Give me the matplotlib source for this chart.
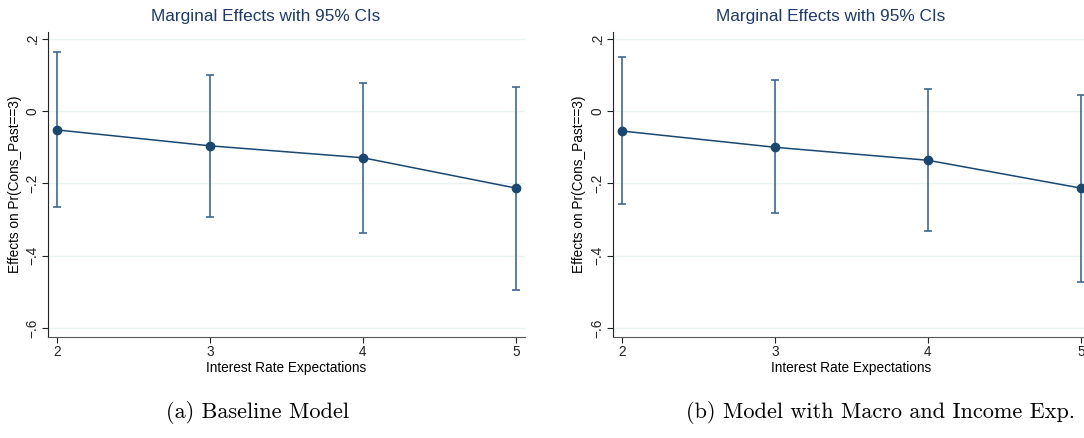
import matplotlib.pyplot as plt

# interest rate expectation categories
rate_exp = [2, 3, 4, 5]

# (a) baseline model
base_eff = [-0.052, -0.096, -0.129, -0.213]
base_lo = [-0.265, -0.294, -0.336, -0.495]
base_hi = [0.164, 0.101, 0.079, 0.066]

# (b) model with macro and income expectations
macro_eff = [-0.055, -0.100, -0.136, -0.213]
macro_lo = [-0.257, -0.283, -0.331, -0.473]
macro_hi = [0.150, 0.086, 0.060, 0.046]

yticks = [0.2, 0, -0.2, -0.4, -0.6]
ytick_labels = ['.2', '0', '\u2212.2', '\u2212.4', '\u2212.6']
captions = ['(a) Baseline Model', '(b) Model with Macro and Income Exp.']

plt.rcParams['font.family'] = ['Liberation Sans', 'DejaVu Sans']

navy = '#1a476f'
bar_col = '#3f6891'

fig = plt.figure(figsize=(10.84, 4.38), dpi=100)
W, H = 1084, 438


def panel(x0, eff, lo, hi, title, caption, cap_x):
    ax = fig.add_axes([x0 / W, (H - 337) / H, 477 / W, 305 / H])
    ax.set_xlim(1.941, 5.059)
    ax.set_ylim(-0.625, 0.219)
    for y in yticks:
        ax.axhline(y, color='#eaf2f3', lw=1, zorder=0)
    err = [[e - l for e, l in zip(eff, lo)], [h - e for e, h in zip(eff, hi)]]
    ax.errorbar(rate_exp, eff, yerr=err, fmt='none', ecolor=bar_col,
                elinewidth=1.2, capsize=3.2, capthick=1.2, zorder=2)
    ax.plot(rate_exp, eff, color=navy, lw=1.1, marker='o', ms=6,
            zorder=3, clip_on=False)
    ax.set_xticks(rate_exp)
    ax.set_xticklabels([str(v) for v in rate_exp], fontsize=9.8)
    ax.set_yticks(yticks)
    ax.set_yticklabels(ytick_labels, fontsize=9.8, rotation=90, va='center')
    ax.tick_params(direction='out', length=4, width=0.8, pad=2, colors='#222222')
    for s in ['top', 'right']:
        ax.spines[s].set_visible(False)
    ax.spines['left'].set_color('#222222')
    ax.spines['bottom'].set_color('#555555')
    ax.set_xlabel('Interest Rate Expectations', fontsize=9.8, labelpad=1)
    ax.set_ylabel('Effects on Pr(Cons_Past==3)', fontsize=9.8, labelpad=3)
    fig.text(cap_x[0] / W, (H - 16) / H, title, ha='center', va='center',
             fontsize=12.4, color='#1f3a66')
    fig.text(cap_x[1] / W, (H - 412) / H, caption, ha='center', va='center',
             fontsize=16, family='cmr10')
    return ax


panel(48, base_eff, base_lo, base_hi, 'Marginal Effects with 95% CIs',
      captions[0], (266, 258))
panel(613, macro_eff, macro_lo, macro_hi, 'Marginal Effects with 95% CIs',
      captions[1], (831, 881))

fig.savefig('out.png', dpi=100)
